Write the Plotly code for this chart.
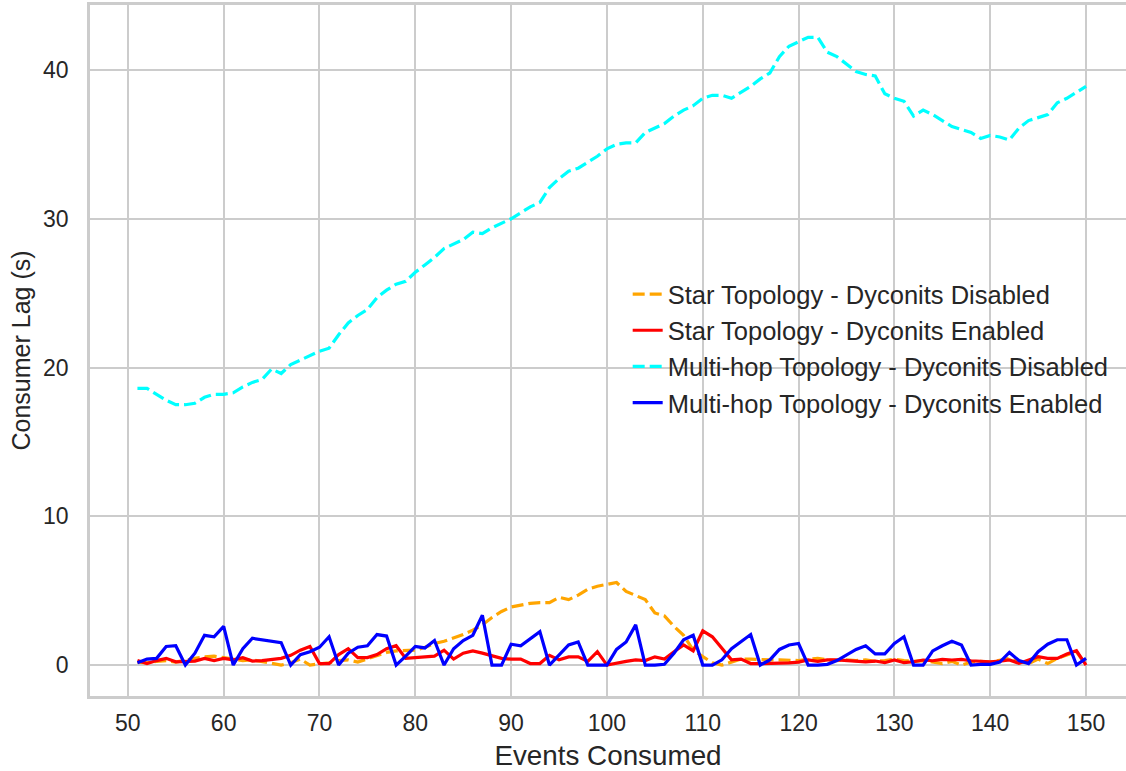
import plotly.graph_objects as go

events = list(range(51, 151))

star_disabled = [
    0.2, 0.15, 0.25, 0.3, 0.2, 0.35, 0.45, 0.55, 0.6, 0.5,
    0.4, 0.3, 0.35, 0.25, 0.1, 0.0, 0.15, 0.4, 0.0, 0.05,
    0.15, 0.3, 0.35, 0.2, 0.4, 0.6, 0.85, 0.95, 1.0, 1.0,
    1.2, 1.45, 1.6, 1.8, 2.05, 2.35, 2.7, 3.2, 3.6, 3.9,
    4.05, 4.15, 4.2, 4.2, 4.55, 4.4, 4.7, 5.1, 5.3, 5.45,
    5.55, 4.95, 4.7, 4.4, 3.5, 3.3, 2.6, 2.0, 1.0, 0.55,
    0.15, 0.0, 0.2, 0.4, 0.4, 0.35, 0.35, 0.35, 0.3, 0.3,
    0.4, 0.45, 0.35, 0.3, 0.35, 0.3, 0.35, 0.25, 0.3, 0.4,
    0.3, 0.25, 0.3, 0.2, 0.1, 0.25, 0.0, 0.2, 0.25, 0.2,
    0.3, 0.45, 0.25, 0.1, 0.4, 0.1, 0.45, 0.7, 0.9, 0.0,
]

star_enabled = [
    0.3, 0.1, 0.3, 0.45, 0.22, 0.27, 0.27, 0.45, 0.3, 0.45,
    0.35, 0.5, 0.27, 0.3, 0.35, 0.45, 0.65, 1.0, 1.25, 0.1,
    0.1, 0.7, 1.1, 0.5, 0.5, 0.7, 1.1, 1.3, 0.45, 0.5,
    0.55, 0.6, 1.0, 0.4, 0.8, 0.95, 0.8, 0.6, 0.45, 0.4,
    0.4, 0.1, 0.1, 0.65, 0.35, 0.55, 0.55, 0.25, 0.9, 0.0,
    0.15, 0.25, 0.35, 0.3, 0.55, 0.4, 0.9, 1.35, 0.95, 2.3,
    1.9, 1.1, 0.35, 0.4, 0.1, 0.1, 0.1, 0.15, 0.15, 0.2,
    0.35, 0.25, 0.35, 0.35, 0.3, 0.27, 0.22, 0.27, 0.16, 0.34,
    0.16, 0.22, 0.34, 0.29, 0.38, 0.34, 0.38, 0.29, 0.27, 0.22,
    0.27, 0.34, 0.11, 0.34, 0.56, 0.45, 0.45, 0.74, 0.96, 0.0,
]

multihop_disabled = [
    18.6, 18.6, 18.2, 17.8, 17.5, 17.5, 17.6, 18.0, 18.2, 18.2,
    18.3, 18.7, 19.0, 19.2, 19.9, 19.6, 20.2, 20.5, 20.8, 21.1,
    21.3, 22.2, 23.0, 23.5, 23.9, 24.7, 25.2, 25.6, 25.8, 26.4,
    26.9, 27.4, 28.0, 28.3, 28.6, 29.1, 29.0, 29.4, 29.7, 30.0,
    30.4, 30.8, 31.1, 32.1, 32.7, 33.2, 33.4, 33.8, 34.2, 34.7,
    35.0, 35.1, 35.1, 35.8, 36.1, 36.4, 36.9, 37.3, 37.6, 38.1,
    38.3, 38.3, 38.1, 38.5, 38.9, 39.4, 39.8, 40.9, 41.6, 41.9,
    42.2, 42.2, 41.2, 40.9, 40.4, 39.9, 39.7, 39.6, 38.4, 38.1,
    37.9, 36.9, 37.3, 37.0, 36.6, 36.2, 36.0, 35.8, 35.4, 35.6,
    35.5, 35.3, 36.1, 36.6, 36.8, 37.0, 37.8, 38.1, 38.5, 38.9,
]

multihop_enabled = [
    0.15, 0.4, 0.45, 1.25, 1.3, 0.0, 0.8, 2.0, 1.9, 2.6,
    0.0, 1.1, 1.8, 1.7, 1.6, 1.5, 0.0, 0.7, 0.9, 1.2,
    1.9, 0.0, 0.8, 1.2, 1.3, 2.05, 1.95, 0.0, 0.6, 1.25,
    1.15, 1.65, 0.0, 1.1, 1.65, 2.0, 3.35, 0.0, 0.0, 1.4,
    1.3, 1.8, 2.25, 0.0, 0.65, 1.35, 1.55, 0.0, 0.0, 0.0,
    1.05, 1.55, 2.7, 0.0, 0.0, 0.05, 0.8, 1.7, 2.0, 0.0,
    0.0, 0.35, 1.1, 1.55, 2.05, 0.0, 0.35, 1.05, 1.35, 1.45,
    0.0, 0.0, 0.05, 0.3, 0.7, 1.05, 1.3, 0.75, 0.75, 1.45,
    1.9, 0.0, 0.0, 0.95, 1.3, 1.6, 1.35, 0.0, 0.05, 0.05,
    0.2, 0.85, 0.3, 0.1, 0.9, 1.4, 1.7, 1.7, 0.0, 0.45,
]

x_ticks = [50, 60, 70, 80, 90, 100, 110, 120, 130, 140, 150]
y_ticks = [0, 10, 20, 30, 40]

series = [
    ("Star Topology - Dyconits Disabled", star_disabled, "orange", "12px,5px"),
    ("Star Topology - Dyconits Enabled", star_enabled, "red", "solid"),
    ("Multi-hop Topology - Dyconits Disabled", multihop_disabled, "cyan", "12px,5px"),
    ("Multi-hop Topology - Dyconits Enabled", multihop_enabled, "blue", "solid"),
]

fig = go.Figure()
for i, (name, vals, color, dash) in enumerate(series):
    fig.add_trace(go.Scatter(
        x=events, y=vals, mode="lines", name=name,
        line=dict(color=color, width=3.2, dash=dash),
    ))

FONT = "Liberation Sans, Arial, sans-serif"
TXT = "#262626"

fig.update_layout(
    width=1126, height=771,
    margin=dict(l=90, r=0, t=5, b=75),
    paper_bgcolor="white", plot_bgcolor="white",
    font=dict(family=FONT, color=TXT, size=23),
    showlegend=True,
    legend=dict(
        x=0.519, y=0.615, xanchor="left", yanchor="top",
        bgcolor="rgba(0,0,0,0)", borderwidth=0,
        font=dict(size=25.5, color=TXT, family=FONT),
        traceorder="normal",
    ),
    xaxis=dict(
        range=[46.05, 154.17], tickvals=x_ticks,
        showgrid=True, gridcolor="#cccccc", gridwidth=2,
        showline=True, linecolor="#cccccc", linewidth=2.5, mirror=True,
        zeroline=False, ticks="", ticklabelstandoff=5,
        tickfont=dict(size=23, color=TXT),
        title=dict(text="Events Consumed", font=dict(size=27.8, color=TXT), standoff=12),
    ),
    yaxis=dict(
        range=[-2.08, 44.37], tickvals=y_ticks,
        showgrid=True, gridcolor="#cccccc", gridwidth=2,
        showline=True, linecolor="#cccccc", linewidth=2.5, mirror=False,
        zeroline=False, ticks="", ticklabelstandoff=14,
        tickfont=dict(size=23, color=TXT),
        title=dict(text="Consumer Lag (s)", font=dict(size=25, color=TXT), standoff=6),
    ),
)

fig.write_html("out.html")
